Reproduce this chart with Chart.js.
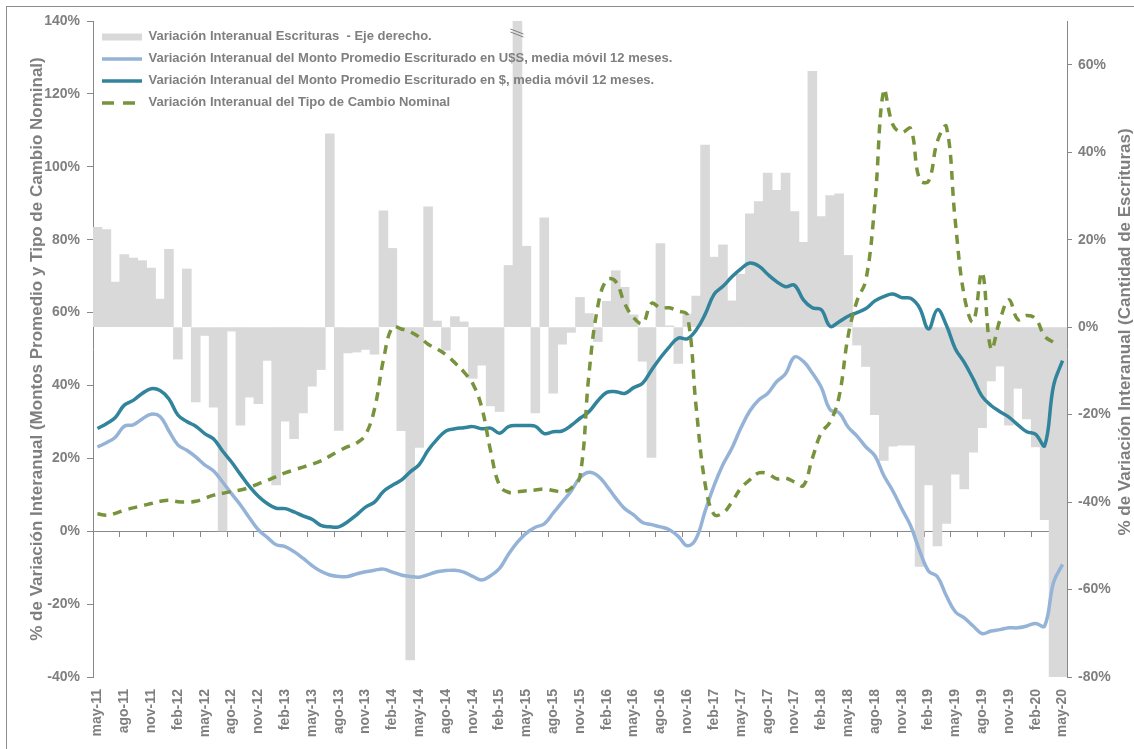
<!DOCTYPE html>
<html lang="es">
<head>
<meta charset="utf-8">
<title>Variación interanual de escrituras y montos escriturados</title>
<script src="https://cdn.jsdelivr.net/npm/chart.js@4.4.1/dist/chart.umd.min.js"></script>
<style>
  html, body { margin: 0; padding: 0; background: #fff; overflow: hidden; }
  #marco { position: absolute; left: 6px; top: 6px; width: 1140px; height: 760px; border: 1px solid #8c8c8c; }
  #grafico { position: absolute; left: 0; top: 0; }
</style>
</head>
<body>
<div id="marco"></div>
<canvas id="grafico" width="1134" height="749"></canvas>
<script>
// Meses de may-11 a may-20
const meses = ["ene", "feb", "mar", "abr", "may", "jun", "jul", "ago", "sep", "oct", "nov", "dic"];
const etiquetas = [];
for (let anio = 2011; anio <= 2020; anio++) {
    for (let m = 0; m < 12; m++) {
        if ((anio === 2011 && m < 4) || (anio === 2020 && m > 4)) continue;
        etiquetas.push(meses[m] + "-" + String(anio).slice(2));
    }
}

// Variación interanual de la cantidad de escrituras (eje derecho)
const escrituras = [
    22.8, 22.3, 10.3, 16.6, 15.8, 15.2, 13.5, 6.4, 17.8, -7.3,
    13.3, -17.1, -1.9, -18.3, -46.6, -0.9, -22.4, -16.0, -17.5, -7.6,
    -36.1, -21.5, -25.5, -19.6, -13.5, -9.7, 44.2, -23.6, -5.9, -5.7,
    -5.1, -6.2, 26.6, 18.0, -23.7, -76.1, -27.5, 27.5, 1.4, -5.3,
    2.4, 1.2, -11.7, -8.7, -18.0, -19.3, 14.1, 85.0, 18.5, -19.6,
    25.0, -15.1, -3.9, -1.2, 6.8, 3.1, -3.3, 5.9, 12.9, 9.1,
    2.8, -7.8, -29.8, 19.1, 0.3, -8.3, 3.0, 7.1, 41.6, 16.0,
    18.8, 6.0, 12.1, 25.9, 28.7, 35.2, 31.3, 35.2, 26.4, 19.4,
    58.5, 25.3, 30.1, 30.5, 16.4, -4.1, -9.0, -20.0, -30.5, -27.2,
    -27.0, -27.0, -54.7, -36.1, -50.0, -44.9, -33.6, -37.0, -28.6, -23.0,
    -12.3, -8.9, -22.4, -14.0, -21.0, -27.4, -44.0, -80.0, -80.0
];

// Monto promedio escriturado en U$S, media móvil 12 meses
const montoDolares = [
    23.1, 24.3, 25.8, 28.8, 29.2, 30.8, 32.1, 31.5, 27.5, 23.7,
    22.2, 20.4, 18.2, 16.5, 13.5, 10.3, 7.2, 3.7, 0.4, -1.7,
    -3.7, -4.2, -5.6, -7.4, -9.4, -11.0, -12.0, -12.4, -12.4, -11.7,
    -11.1, -10.7, -10.4, -11.2, -12.0, -12.4, -12.6, -11.9, -11.1, -10.8,
    -10.7, -11.2, -12.4, -13.4, -12.2, -10.2, -6.3, -3.0, -0.5, 1.1,
    2.0, 5.0, 8.0, 11.0, 14.7, 16.2, 15.2, 12.4, 9.1, 6.2,
    4.5, 2.4, 1.8, 1.2, 0.4, -1.4, -4.0, -2.0, 5.5, 12.5,
    18.3, 22.8, 28.3, 33.0, 36.0, 37.8, 41.0, 43.2, 47.8, 46.6,
    43.4, 39.5, 33.3, 32.5, 28.6, 26.1, 23.1, 20.7, 15.3, 11.1,
    6.2, 1.5, -5.3, -10.9, -12.5, -17.7, -22.1, -23.8, -26.0, -28.1,
    -27.4, -27.0, -26.5, -26.5, -26.0, -25.3, -26.0, -14.0, -9.1
];

// Monto promedio escriturado en $, media móvil 12 meses
const montoPesos = [
    28.2, 29.5, 31.2, 34.6, 35.9, 37.8, 39.1, 38.6, 36.3, 31.9,
    30.1, 28.8, 26.8, 25.3, 22.0, 19.0, 15.6, 12.3, 9.6, 7.6,
    6.3, 6.2, 5.3, 4.2, 3.3, 1.6, 1.2, 1.2, 2.6, 4.5,
    6.6, 8.0, 10.9, 12.6, 14.0, 16.3, 18.3, 22.2, 25.2, 27.5,
    28.1, 28.4, 28.7, 28.1, 28.3, 26.9, 28.7, 29.0, 29.0, 28.8,
    26.8, 27.3, 27.5, 29.0, 31.0, 32.8, 35.8, 38.1, 38.3, 37.8,
    39.4, 40.6, 44.2, 47.6, 50.6, 53.0, 52.8, 55.2, 59.5, 65.0,
    67.2, 69.8, 72.0, 73.6, 72.8, 70.5, 68.5, 67.1, 67.5, 63.5,
    61.3, 60.8, 56.2, 57.5, 59.0, 60.0, 61.1, 63.2, 64.4, 65.1,
    64.1, 63.9, 61.3, 55.5, 60.8, 56.5, 50.1, 46.3, 41.8, 37.0,
    34.5, 32.8, 31.3, 29.2, 27.3, 26.6, 23.5, 40.0, 46.8
];

// Tipo de cambio nominal
const tipoCambio = [
    4.8, 4.4, 4.9, 5.8, 6.4, 7.0, 7.6, 8.2, 8.5, 8.1,
    8.0, 8.2, 9.0, 9.9, 10.4, 10.9, 11.3, 12.0, 13.0, 13.9,
    15.0, 16.0, 16.8, 17.6, 18.4, 19.3, 20.6, 22.0, 23.2, 24.2,
    26.5, 33.5, 47.0, 56.0, 55.5, 54.7, 53.3, 51.3, 50.0, 48.4,
    46.2, 43.7, 40.5, 34.0, 22.0, 12.5, 10.7, 10.8, 11.1, 11.3,
    11.6, 11.2, 10.8, 11.8, 15.0, 43.0, 61.8, 69.0, 68.5, 62.5,
    58.6, 57.0, 62.5, 61.3, 61.3, 60.4, 59.4, 34.0, 13.0, 4.6,
    5.0, 8.0, 11.8, 14.1, 16.0, 15.8, 14.4, 14.6, 13.5, 12.5,
    20.0, 27.0, 30.0, 37.0, 53.5, 63.2, 69.0, 90.0, 121.0, 111.6,
    109.4, 110.5, 96.5, 96.0, 107.0, 111.0, 85.0, 64.5, 57.5, 71.0,
    50.0, 58.0, 63.5, 58.1, 59.2, 58.3, 53.5, 51.8, null
];

const tituloEjeIzq = "% de Variación Interanual (Montos Promedio y Tipo de Cambio Nominal)";
const tituloEjeDer = "% de Variación Interanual (Cantidad de Escrituras)";

const gris = "#7f7f7f";
const fuente = "'Liberation Sans', Arial, sans-serif";
Chart.defaults.font.family = fuente;
Chart.defaults.font.weight = "bold";
Chart.defaults.color = gris;

// Marca de corte sobre las barras que se salen del eje derecho
const marcaCorte = {
    id: "marcaCorte",
    afterDatasetsDraw(chart) {
        const ctx = chart.ctx;
        const escala = chart.scales.y2;
        const barras = chart.getDatasetMeta(0).data;
        const arriba = chart.chartArea.top;
        escrituras.forEach((v, i) => {
            if (v <= escala.max) return;
            const x = barras[i].x;
            ctx.save();
            ctx.strokeStyle = gris;
            ctx.lineWidth = 1;
            [0, 3].forEach(d => {
                ctx.beginPath();
                ctx.moveTo(x - 7, arriba + 8 + d);
                ctx.lineTo(x + 6, arriba + 13 + d);
                ctx.stroke();
            });
            ctx.restore();
        });
    }
};

// La leyenda va por encima de las barras
const leyendaArriba = {
    id: "leyendaArriba",
    afterInit(chart) {
        const leyenda = chart.legend;
        leyenda._layers = () => [{ z: 1, draw: area => leyenda.draw(area) }];
    }
};

// Título del eje derecho, leído de abajo hacia arriba
const tituloDerecho = {
    id: "tituloDerecho",
    afterDraw(chart) {
        const ctx = chart.ctx;
        const escala = chart.scales.y2;
        const area = chart.chartArea;
        ctx.save();
        ctx.translate(escala.right - 9, (area.top + area.bottom) / 2 - 17);
        ctx.rotate(-Math.PI / 2);
        ctx.font = "bold 17px " + fuente;
        ctx.fillStyle = gris;
        ctx.textAlign = "center";
        ctx.textBaseline = "middle";
        ctx.fillText(tituloEjeDer, 0, 0);
        ctx.restore();
    }
};

new Chart(document.getElementById("grafico"), {
    type: "bar",
    data: {
        labels: etiquetas,
        datasets: [{
            type: "bar",
            label: "Variación Interanual Escrituras  - Eje derecho.",
            data: escrituras,
            yAxisID: "y2",
            backgroundColor: "#d9d9d9",
            borderWidth: 0,
            barPercentage: 1,
            categoryPercentage: 1,
            pointStyle: "rect",
            order: 4
        }, {
            type: "line",
            label: "Variación Interanual del Monto Promedio Escriturado en U$S, media móvil 12 meses.",
            data: montoDolares,
            yAxisID: "y",
            borderColor: "#95b3d7",
            backgroundColor: "#95b3d7",
            borderWidth: 3.5,
            pointRadius: 0,
            tension: 0.4,
            pointStyle: "line",
            order: 3
        }, {
            type: "line",
            label: "Variación Interanual del Monto Promedio Escriturado en $, media móvil 12 meses.",
            data: montoPesos,
            yAxisID: "y",
            borderColor: "#31849b",
            backgroundColor: "#31849b",
            borderWidth: 3.5,
            pointRadius: 0,
            tension: 0.4,
            pointStyle: "line",
            order: 2
        }, {
            type: "line",
            label: "Variación Interanual del Tipo de Cambio Nominal",
            data: tipoCambio,
            yAxisID: "y",
            borderColor: "#77933c",
            backgroundColor: "#77933c",
            borderWidth: 3.5,
            borderDash: [9, 7],
            pointRadius: 0,
            tension: 0.4,
            pointStyle: "line",
            order: 1
        }]
    },
    options: {
        responsive: false,
        animation: false,
        layout: { padding: { top: 21 } },
        plugins: {
            tooltip: { enabled: false },
            legend: {
                position: "chartArea",
                align: "start",
                // título vacío solo para bajar la leyenda dentro del área
                title: { display: true, text: " ", font: { size: 2 }, padding: { top: 19, bottom: 0 } },
                labels: {
                    usePointStyle: true,
                    pointStyleWidth: 40,
                    boxHeight: 7,
                    padding: 9,
                    color: gris,
                    font: { size: 13 },
                    generateLabels(chart) {
                        const items = Chart.defaults.plugins.legend.labels.generateLabels(chart);
                        items.forEach(it => {
                            const ds = chart.data.datasets[it.datasetIndex];
                            if (ds.borderDash) it.lineDash = [12, 9];
                        });
                        return items;
                    },
                    sort: (a, b) => a.datasetIndex - b.datasetIndex
                }
            }
        },
        scales: {
            x: {
                offset: true,
                grid: { display: false, drawTicks: false },
                border: { display: false },
                ticks: {
                    autoSkip: false,
                    minRotation: 90,
                    maxRotation: 90,
                    padding: 12,
                    font: { size: 14 },
                    callback: (v, i) => (i % 3 === 0 ? etiquetas[i] : "")
                },
                afterFit: s => { s.height = 72; }
            },
            // línea del 0% del eje izquierdo con marcas trimestrales
            xCero: {
                type: "category",
                position: { y: 0 },
                offset: true,
                grid: {
                    offset: true,
                    drawOnChartArea: false,
                    tickLength: 5,
                    color: c => (c.index % 3 === 0 ? "#888" : "rgba(0,0,0,0)")
                },
                border: { color: "#888" },
                ticks: { display: false }
            },
            y: {
                position: "left",
                min: -40,
                max: 140,
                ticks: { stepSize: 20, padding: 7, font: { size: 14 }, callback: v => v + "%" },
                grid: { drawOnChartArea: false, tickLength: 6, color: "#888" },
                border: { color: "#888" },
                title: { display: true, text: tituloEjeIzq, font: { size: 17 }, padding: { top: 27, bottom: 0 } },
                afterFit: s => { s.width = 93; }
            },
            y2: {
                position: "right",
                min: -80,
                max: 70,
                ticks: { stepSize: 20, includeBounds: false, padding: 6, font: { size: 14 }, callback: v => v + "%" },
                grid: { drawOnChartArea: false, tickLength: 5, color: "#888" },
                border: { color: "#888" },
                afterFit: s => { s.width = 67; }
            }
        }
    },
    plugins: [marcaCorte, leyendaArriba, tituloDerecho]
});
</script>
</body>
</html>
